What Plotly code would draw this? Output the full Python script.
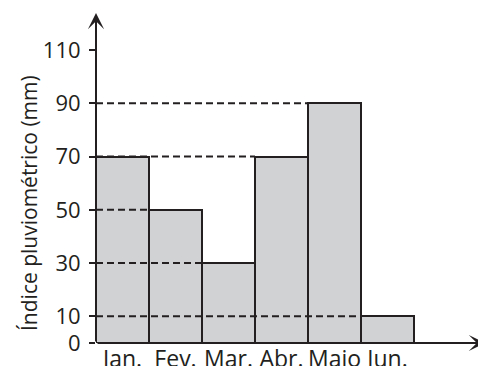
import plotly.graph_objects as go

months = ["Jan.", "Fev.", "Mar.", "Abr.", "Maio", "Jun."]
rain = [70, 50, 30, 70, 90, 10]
y_ticks = [0, 10, 30, 50, 70, 90, 110]

INK = "#231f20"
FILL = "#d1d2d4"
FONT = "Open Sans"

# the page body adds an 8px offset; figure pixel = page pixel - 8
OFF = 8
W, H = 486 - OFF, 366 - OFF
ML, MR, MT = 96 - OFF, 0, 0
zero_y = 343 - OFF
MB = H - zero_y
bar_px = 53.0
plot_w = W - ML - MR
plot_h = H - MT - MB
x_max = -0.5 + plot_w / bar_px
px_per_unit = 293 / 110.0
y_max = plot_h / px_per_unit

x_idx = list(range(len(months)))

fig = go.Figure()
fig.add_trace(go.Bar(
    x=x_idx, y=rain, width=1,
    marker=dict(color=FILL, line=dict(color=INK, width=2)),
    hoverinfo="skip", showlegend=False,
))

# dashed guide lines from the y axis to the left edge of each bar
for i, v in enumerate(rain):
    if i == 0:
        continue
    fig.add_trace(go.Scatter(
        x=[-0.5, i - 0.5], y=[v, v], mode="lines",
        line=dict(color=INK, width=2, dash="7px,4px"),
        hoverinfo="skip", showlegend=False,
    ))

x_tip = -0.5 + (485 - 96) / bar_px
y_tip = (343 - 13) / px_per_unit

fig.add_annotation(x=-0.5, y=y_tip, ax=-0.5, ay=0, xref="x", yref="y",
                   axref="x", ayref="y", text="", showarrow=True,
                   arrowhead=3, arrowsize=1.35, arrowwidth=2, arrowcolor=INK)
fig.add_annotation(x=x_tip, y=0, ax=-0.5, ay=0, xref="x", yref="y",
                   axref="x", ayref="y", text="", showarrow=True,
                   arrowhead=3, arrowsize=1.35, arrowwidth=2, arrowcolor=INK)

fig.add_annotation(text="Índice pluviométrico (mm)", textangle=-90,
                   xref="paper", yref="paper", xanchor="center", yanchor="middle",
                   x=(29 - 96) / plot_w, y=(343 - 203) / plot_h,
                   showarrow=False, font=dict(family=FONT, size=21, color=INK))

fig.update_layout(
    width=W, height=H,
    margin=dict(l=ML, r=MR, t=MT, b=MB, autoexpand=False),
    paper_bgcolor="white", plot_bgcolor="white",
    bargap=0,
    font=dict(family=FONT, color=INK),
    xaxis=dict(range=[-0.5, x_max], tickvals=x_idx, ticktext=months,
               showgrid=False, zeroline=False, showline=False, ticks="",
               tickfont=dict(size=23, color=INK), fixedrange=True),
    yaxis=dict(range=[0, y_max], tickvals=y_ticks,
               showgrid=False, zeroline=False, showline=False,
               ticks="outside", ticklen=6, tickwidth=2, tickcolor=INK,
               ticklabelstandoff=4,
               tickfont=dict(size=22, color=INK), fixedrange=True),
)

fig.write_html("out.html")
